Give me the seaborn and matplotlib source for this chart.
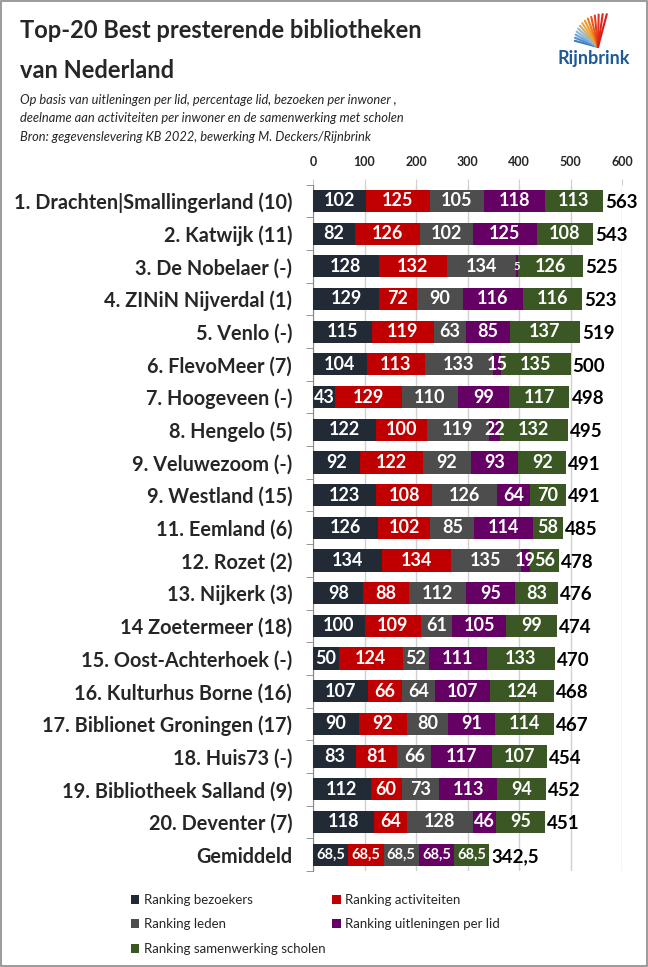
import numpy as np
import pandas as pd
import matplotlib
matplotlib.use("Agg")
from matplotlib import pyplot as plt
from matplotlib.patches import Patch, Rectangle
import seaborn as sns

bibliotheken = [
    "1. Drachten|Smallingerland (10)", "2. Katwijk (11)", "3. De Nobelaer (-)",
    "4. ZINiN Nijverdal (1)", "5. Venlo (-)", "6. FlevoMeer (7)", "7. Hoogeveen (-)",
    "8. Hengelo (5)", "9. Veluwezoom (-)", "9. Westland (15)", "11. Eemland (6)",
    "12. Rozet (2)", "13. Nijkerk (3)", "14 Zoetermeer (18)", "15. Oost-Achterhoek (-)",
    "16. Kulturhus Borne (16)", "17. Biblionet Groningen (17)", "18. Huis73 (-)",
    "19. Bibliotheek Salland (9)", "20. Deventer (7)", "Gemiddeld",
]
bezoekers = [102, 82, 128, 129, 115, 104, 43, 122, 92, 123, 126, 134, 98, 100, 50, 107, 90, 83, 112, 118, 68.5]
activiteiten = [125, 126, 132, 72, 119, 113, 129, 100, 122, 108, 102, 134, 88, 109, 124, 66, 92, 81, 60, 64, 68.5]
leden = [105, 102, 134, 90, 63, 133, 110, 119, 92, 126, 85, 135, 112, 61, 52, 64, 80, 66, 73, 128, 68.5]
uitleningen = [118, 125, 5, 116, 85, 15, 99, 22, 93, 64, 114, 19, 95, 105, 111, 107, 91, 117, 113, 46, 68.5]
scholen = [113, 108, 126, 116, 137, 135, 117, 132, 92, 70, 58, 56, 83, 99, 133, 124, 114, 107, 94, 95, 68.5]

reeksen = ["Ranking bezoekers", "Ranking activiteiten", "Ranking leden",
           "Ranking uitleningen per lid", "Ranking samenwerking scholen"]
kleuren = ["#222A36", "#C00000", "#4D4D4D", "#650065", "#3B5724"]

df = pd.DataFrame({
    "Bibliotheek": bibliotheken,
    reeksen[0]: bezoekers,
    reeksen[1]: activiteiten,
    reeksen[2]: leden,
    reeksen[3]: uitleningen,
    reeksen[4]: scholen,
})
waarden = df[reeksen].to_numpy()
cum = np.cumsum(waarden, axis=1)
totaal = cum[:, -1]


def fmt(v):
    if float(v).is_integer():
        return str(int(v))
    return ("%.1f" % v).replace(".", ",")


sns.set_style("white")
plt.rcParams["font.family"] = ["Lato", "DejaVu Sans"]

fig = plt.figure(figsize=(6.48, 9.67), dpi=100)
ax = fig.add_axes([313 / 648, 1 - 871 / 967, 309 / 648, (871 - 184.6) / 967])

# stacked bars: draw cumulative sums from the longest down
for k in reversed(range(5)):
    sns.barplot(x=cum[:, k], y=df["Bibliotheek"], color=kleuren[k], orient="h",
                width=0.68, saturation=1, linewidth=0, edgecolor="none", ax=ax, zorder=3)

for i in range(len(bibliotheken)):
    links = 0
    for k in range(5):
        v = waarden[i, k]
        if bibliotheken[i] == "Gemiddeld":
            fs = 10.5
        elif v < 10:
            fs = 8
        else:
            fs = 13
        ax.text(links + v / 2, i, fmt(v), color="white", fontsize=fs,
                fontweight="bold", ha="center", va="center", zorder=4)
        links += v
    ax.text(totaal[i] + 4, i + 0.05, fmt(totaal[i]), color="black", fontsize=13.5,
            fontweight="bold", ha="left", va="center", zorder=4)

ax.set_xlim(0, 600)
ax.set_ylim(len(bibliotheken) - 0.5, -0.5)
ax.set_xticks(range(0, 601, 100))
ax.xaxis.tick_top()
ax.tick_params(axis="x", length=4, color="#D0D0D0", pad=8, labelsize=9)
for lab in ax.get_xticklabels():
    lab.set_fontweight("bold")
ax.grid(axis="x", color="#D0D0D0", linewidth=1, zorder=0)
ax.set_xlabel("")
ax.set_ylabel("")

ax.set_yticks(np.arange(-0.5, len(bibliotheken), 1), minor=True)
ax.tick_params(axis="y", which="major", length=0, pad=15, labelsize=14.3)
ax.tick_params(axis="y", which="minor", length=5, color="#888888", direction="out", left=True)
for lab in ax.get_yticklabels():
    lab.set_fontweight("bold")

for s in ["top", "right", "bottom"]:
    ax.spines[s].set_visible(False)
ax.spines["left"].set_color("#888888")

# title and subtitle
fig.text(20 / 648, 1 - 38 / 967, "Top-20 Best presterende bibliotheken", fontsize=17,
         fontweight="bold", va="baseline")
fig.text(20 / 648, 1 - 78 / 967, "van Nederland", fontsize=17, fontweight="bold", va="baseline")
sub = ["Op basis van uitleningen per lid, percentage lid, bezoeken per inwoner ,",
       "deelname aan activiteiten per inwoner en de samenwerking met scholen",
       "Bron: gegevenslevering KB 2022, bewerking M. Deckers/Rijnbrink"]
for j, t in enumerate(sub):
    fig.text(20 / 648, 1 - (104 + 18.5 * j) / 967, t, fontsize=9.3, fontstyle="italic",
             va="baseline")

# Rijnbrink logo
lax = fig.add_axes([562 / 648, 1 - 48 / 967, 56 / 648, 36 / 967])
lax.set_xlim(0, 56)
lax.set_ylim(0, 36)
lax.axis("off")
cmap = matplotlib.colors.LinearSegmentedColormap.from_list(
    "fan", ["#3A7CC0", "#8DBBE3", "#F5A623", "#E8401C", "#D81E1E"])
for a in np.linspace(0, 1, 14):
    hoek = np.deg2rad(165 - 90 * a)
    r = 24 + 10 * a
    xs = [36, 36 + r * np.cos(hoek)]
    ys = [1, 1 + r * np.sin(hoek)]
    lax.plot(xs, ys, color=cmap(a), linewidth=1.5, solid_capstyle="round")
fig.text(594 / 648, 1 - 64 / 967, "Rijnbrink", fontsize=13, fontweight="bold",
         color="#1D5A99", ha="center", va="baseline")

# legend
volgorde = [0, 2, 4, 1, 3]
handles = [Patch(facecolor=kleuren[k], edgecolor="none", label=reeksen[k]) for k in volgorde]
fig.legend(handles=handles, ncol=2, loc="upper left", bbox_to_anchor=(119 / 648, 1 - 882 / 967),
           frameon=False, fontsize=9.5, handlelength=0.65, handleheight=0.65,
           handletextpad=0.35, labelspacing=0.95, columnspacing=0.5)

fig.patches.append(Rectangle((0.001, 0.001), 0.998, 0.998, transform=fig.transFigure,
                             fill=False, edgecolor="#8A8A8A", linewidth=1.2))

fig.savefig("out.png", dpi=100)
